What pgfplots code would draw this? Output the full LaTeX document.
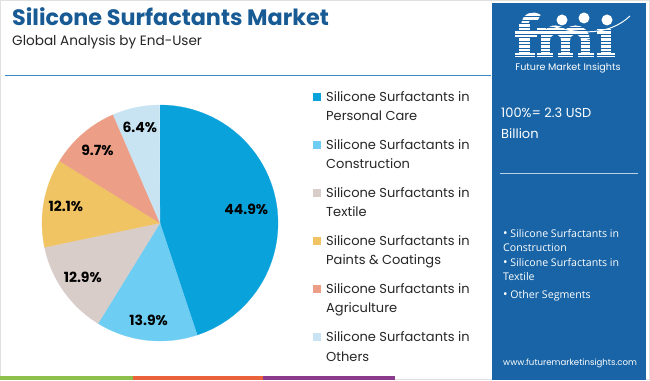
\documentclass[border=0pt]{standalone}
\usepackage{pgfplots}
\pgfplotsset{compat=1.18}
\usepackage{fontspec}
\setmainfont{Poppins}
\newfontfamily\opensans{Open Sans}
\definecolor{titleblue}{HTML}{175A94}
\definecolor{panelblue}{HTML}{1864A6}
\definecolor{lineblue}{HTML}{3F88C5}
\definecolor{cPC}{HTML}{0AA2DB}
\definecolor{cCO}{HTML}{6ECDF2}
\definecolor{cTX}{HTML}{D9CDCA}
\definecolor{cPA}{HTML}{F0C462}
\definecolor{cAG}{HTML}{EC9F86}
\definecolor{cOT}{HTML}{C8E4F3}
\definecolor{sgreen}{HTML}{8DC04A}
\definecolor{sorange}{HTML}{E9623A}
\definecolor{spurple}{HTML}{8C3A8C}
\begin{document}
\begin{tikzpicture}[x=1pt,y=1pt]
\path[use as bounding box] (0,0) rectangle (650,380);
\fill[white] (0,0) rectangle (650,380);
\draw[black!12, line width=0.8] (0.4,0.4) rectangle (649.6,379.6);
% header
\node[anchor=base west, inner sep=0, text=titleblue, font=\fontsize{22.3}{25}\selectfont\bfseries] at (12,354) {Silicone Surfactants Market};
\node[anchor=base west, inner sep=0, text=black!85, font=\fontsize{13.6}{15}\selectfont] at (12,334.5) {Global Analysis by End-User};
\draw[lineblue, line width=1.5] (5,304.5) -- (491,304.5);
% bottom strip
\fill[sgreen] (0,0) rectangle (133,4);
\fill[sorange] (133,0) rectangle (263,4);
\fill[spurple] (263,0) rectangle (395,4);
% right panel
\fill[panelblue] (492,0) rectangle (646,377);
% logo (drawn as shapes)
\begin{scope}[white]
\fill (519,323) rectangle (530,356);
\draw[line width=7] (524.5,354) .. controls (525,364) and (533,366) .. (539,362);
\fill (515,342) rectangle (537,349);
\fill (515,323) rectangle (535,327);
\fill (541,323) rectangle (550,349);
\draw[line width=9] (545.5,340) arc (180:0:10);
\draw[line width=9] (565.5,340) arc (180:0:10);
\fill (561,323) rectangle (570,340);
\fill (581,323) rectangle (590,340);
\fill (537,323) rectangle (553,327);
\fill (558,323) rectangle (573,327);
\fill (578,323) rectangle (594,327);
\fill (537,345) rectangle (546,352);
\fill (601,323) rectangle (611,351);
\fill (597,323) rectangle (615,327);
\fill (597,345) rectangle (606,351);
\end{scope}
\foreach \yy in {325,328.5,...,366} {\draw[panelblue, line width=0.9] (510,\yy) -- (625,\yy);}
\fill[white] (562,360) circle (5.5);
\fill[white] (584,362) circle (5.5);
\fill[white] (607,360) circle (5.5);
\draw[white, line width=1] (552,354) .. controls (580,345) and (610,345) .. (630,364);
\node[anchor=base, inner sep=0, text=white, font=\fontsize{9.6}{11}\selectfont] at (568,309.5) {Future Market Insights};
\node[anchor=base west, inner sep=0, text=white, font=\fontsize{13}{15}\selectfont] at (501,262) {100\%= 2.3 USD};
\node[anchor=base west, inner sep=0, text=white, font=\fontsize{13}{15}\selectfont] at (501,241) {Billion};
\draw[white!70!panelblue, line width=1] (500,206) -- (638,206);
\begin{scope}[every node/.style={anchor=base west, inner sep=0, text=white, font=\opensans\fontsize{10.6}{12}\selectfont}]
\node at (503,142.5) {{\large\textbullet}\ Silicone Surfactants in};
\node at (503,128.5) {Construction};
\node at (503,113.5) {{\large\textbullet}\ Silicone Surfactants in};
\node at (503,99.5) {Textile};
\node at (503,81.5) {{\large\textbullet}\ Other Segments};
\end{scope}
\node[anchor=base west, inner sep=0, text=white, font=\fontsize{8.6}{10}\selectfont] at (503,15) {www.futuremarketinsights.com};
% legend
\foreach \i/\c/\t in {0/cPC/Personal Care,1/cCO/Construction,2/cTX/Textile,3/cPA/Paints \& Coatings,4/cAG/Agriculture,5/cOT/Others} {
  \pgfmathsetmacro\yc{380-97-48*\i}
  \fill[\c] (313,\yc-4) rectangle (321,\yc+4);
  \node[anchor=base west, inner sep=0, text=black!85, font=\fontsize{13}{15}\selectfont] at (326,\yc-4.5) {Silicone Surfactants in};
  \node[anchor=base west, inner sep=0, text=black!85, font=\fontsize{13}{15}\selectfont] at (326,\yc-24) {\t};
}
% pie
\begin{axis}[at={(160pt,157pt)}, anchor=center, width=236pt, height=236pt, scale only axis,
  hide axis, xmin=-1, xmax=1, ymin=-1, ymax=1, clip=false]
\def\start{90}
\pgfplotsforeachungrouped \v/\c in {44.9/cPC, 13.9/cCO, 12.9/cTX, 12.1/cPA, 9.7/cAG, 6.4/cOT} {
  \pgfmathsetmacro\e{\start-3.6*\v}
  \edef\temp{\noexpand\addplot[fill=\c, draw=\c, line width=0.2pt, domain=\e:\start, samples=90] ({cos(x)},{sin(x)}) -- (axis cs:0,0) -- cycle;}
  \temp
  \let\start\e
}
\def\start{90}
\pgfplotsforeachungrouped \v/\r in {44.9/0.74, 13.9/0.83, 12.9/0.8, 12.1/0.81, 9.7/0.81, 6.4/0.83} {
  \pgfmathsetmacro\e{\start-3.6*\v}
  \pgfmathsetmacro\m{(\start+\e)/2}
  \pgfmathsetmacro\lx{\r*cos(\m)}
  \pgfmathsetmacro\ly{\r*sin(\m)}
  \edef\temp{\noexpand\node[font=\noexpand\fontsize{14}{16}\noexpand\selectfont\noexpand\bfseries, text=black] at (axis cs:\lx,\ly) {\v\noexpand\%};}
  \temp
  \let\start\e
}
\end{axis}
\end{tikzpicture}
\end{document}
